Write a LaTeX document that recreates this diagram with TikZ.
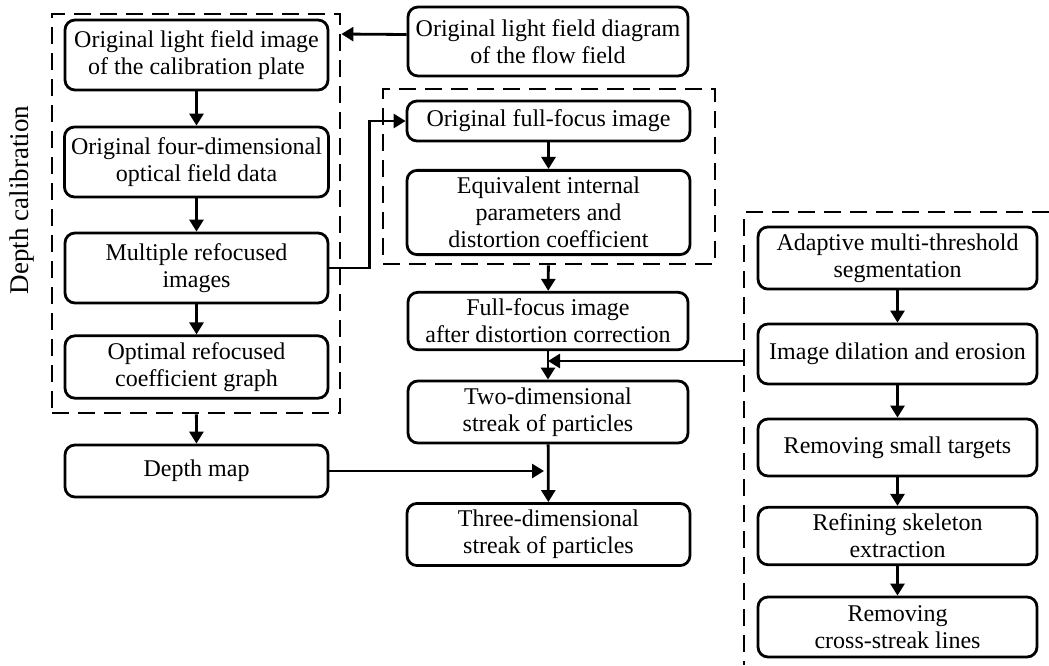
\documentclass[tikz,border=0pt]{standalone}
\usepackage{fontspec}
\setmainfont{Liberation Serif}
\usetikzlibrary{arrows.meta}

\tikzset{
  procbox/.style={draw, line width=1.4pt, rounded corners=5pt, align=center,
    minimum width=140pt, font=\fontsize{12}{13.5}\selectfont},
  groupbox/.style={draw, line width=1.4pt, dash pattern=on 8.5pt off 4.5pt},
  arr/.style={line width=1.4pt, -{Triangle[length=6pt,width=7pt]}}
}

\begin{document}
\begin{tikzpicture}[x=0.5pt,y=-0.5pt]
\useasboundingbox (0,0) rectangle (1049,665);

% depth calibration chain
\node[groupbox, minimum width=144pt, minimum height=199.5pt] (calib) at (196,213.5) {};
\node[procbox, minimum width=131.5pt, minimum height=35pt] (lfcal) at (196.5,55) {Original light field image\\of the calibration plate};
\node[procbox, minimum width=131.5pt, minimum height=35pt] (fourd) at (196.5,162) {Original four-dimensional\\optical field data};
\node[procbox, minimum width=131.5pt, minimum height=35pt] (refoc) at (196.5,268) {Multiple refocused\\images};
\node[procbox, minimum width=131.5pt, minimum height=27.5pt] (optco) at (196.5,367) {Optimal refocused\\coefficient graph};
\node[procbox, minimum width=131.5pt, minimum height=26pt] (depth) at (196.5,471) {Depth map};
\node[rotate=90, font=\fontsize{13.5}{15}\selectfont] (dlabel) at (22,200) {Depth calibration};

% flow field chain
\node[procbox, minimum width=140pt, minimum height=34.5pt] (lfflow) at (548,41.5) {Original light field diagram\\of the flow field};
\node[groupbox, minimum width=166pt, minimum height=87.5pt] (intr) at (549,176.5) {};
\node[procbox, minimum width=141.5pt, minimum height=20pt] (ffoc) at (548.5,121) {Original full-focus image};
\node[procbox, minimum width=141.5pt, minimum height=39.5pt] (eqpar) at (548.5,212.5) {Equivalent internal\\parameters and\\distortion coefficient};
\node[procbox, minimum width=140pt, minimum height=28pt] (ffcor) at (548,321) {Full-focus image\\after distortion correction};
\node[procbox, minimum width=140pt, minimum height=30pt] (twod) at (548,412) {Two-dimensional\\streak of particles};
\node[procbox, minimum width=141.5pt, minimum height=30.5pt] (threed) at (548.5,534.5) {Three-dimensional\\streak of particles};

% segmentation chain
\draw[groupbox] (1049,212) -- (744,212) -- (744,665);
\coordinate (seg) at (744,361);
\node[procbox, minimum width=139.5pt, minimum height=31pt] (adapt) at (897.5,258) {Adaptive multi-threshold\\segmentation};
\node[procbox, minimum width=139.5pt, minimum height=30pt] (dilat) at (897.5,354) {Image dilation and erosion};
\node[procbox, minimum width=139.5pt, minimum height=28.5pt] (small) at (897.5,447.5) {Removing small targets};
\node[procbox, minimum width=139.5pt, minimum height=27pt] (skel) at (897.5,536) {Refining skeleton\\extraction};
\node[procbox, minimum width=139.5pt, minimum height=30pt] (cross) at (897.5,627) {Removing\\cross-streak lines};

\draw[arr] (lfcal) -- (fourd);
\draw[arr] (fourd) -- (refoc);
\draw[arr] (refoc) -- (optco);
\draw[arr] (calib) -- (depth);
\draw[arr] ([yshift=3.5pt]lfflow.west) -- (calib.east |- 0,34);
\draw[arr] (refoc.east) -- ++(40,0) |- (ffoc.west);
\draw[arr] (ffoc) -- (eqpar);
\draw[arr] (intr) -- (ffcor);
\draw[arr] (ffcor) -- (twod);
\draw[arr] (twod) -- (threed);
\draw[arr] (seg) -- (twod.north |- seg);
\draw[arr] (depth.east) -- ([xshift=-2pt]twod.south |- depth.east);
\draw[arr] (adapt) -- (dilat);
\draw[arr] (dilat) -- (small);
\draw[arr] (small) -- (skel);
\draw[arr] (skel) -- (cross);
\end{tikzpicture}
\end{document}
